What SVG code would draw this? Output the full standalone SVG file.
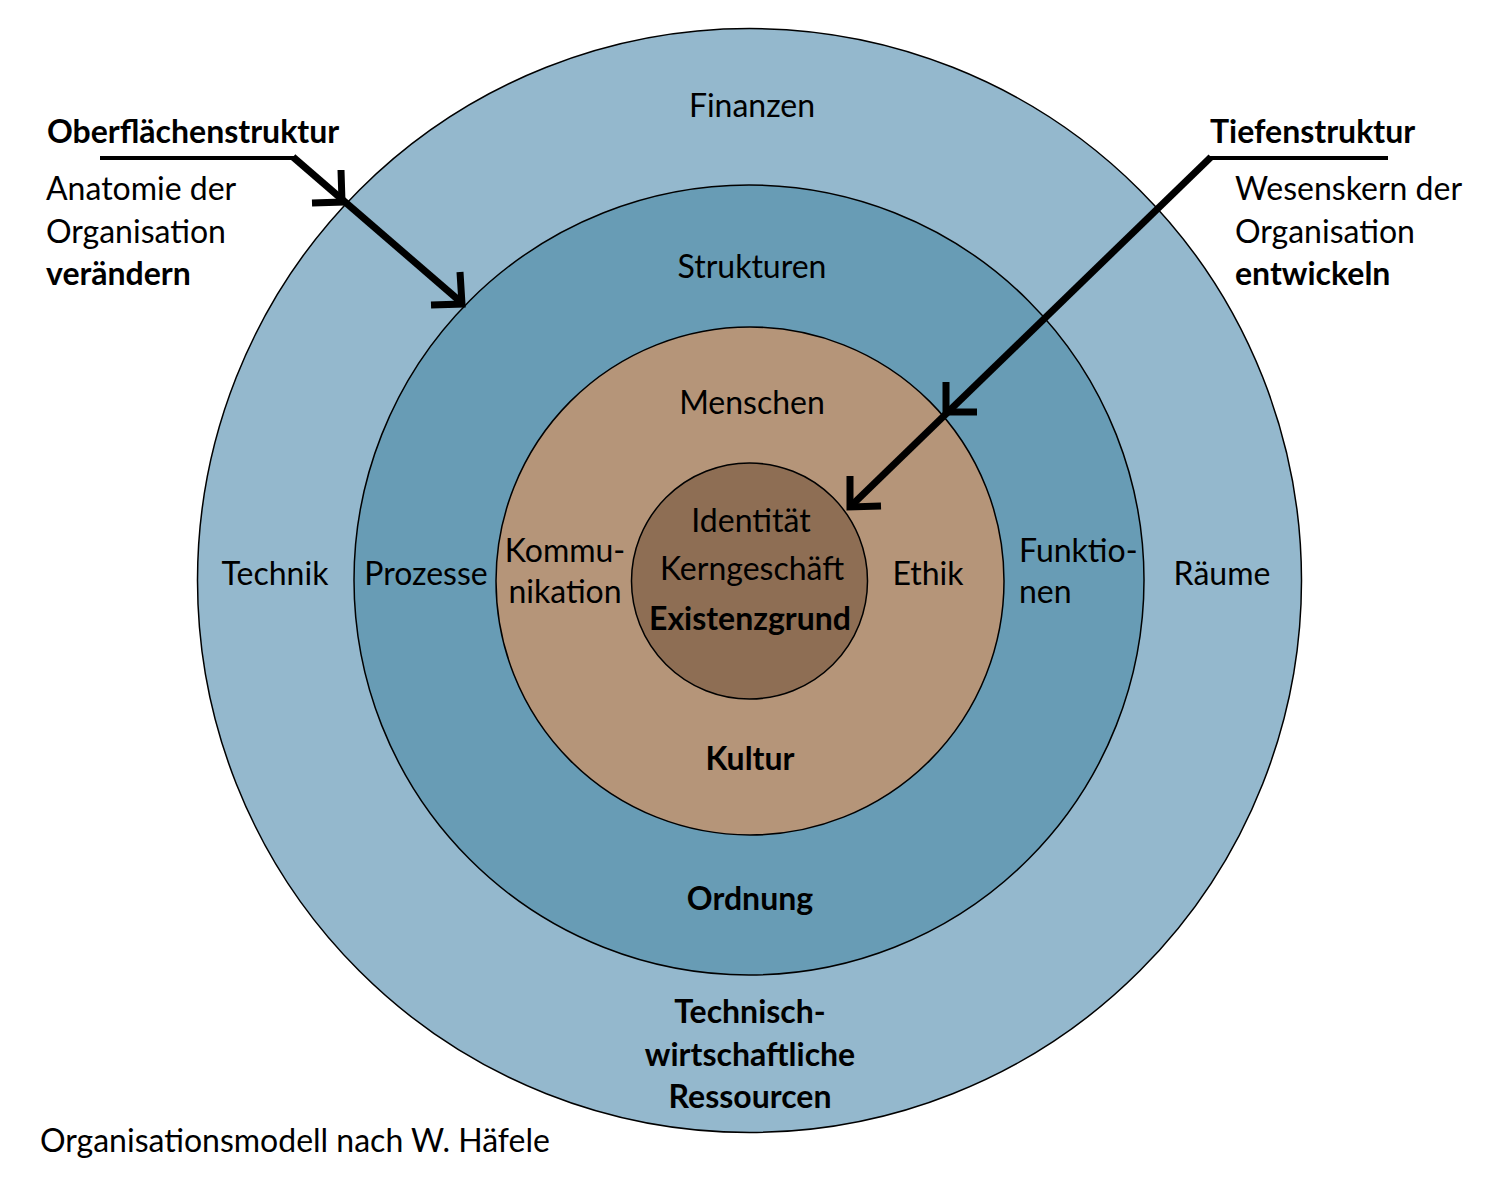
<svg xmlns="http://www.w3.org/2000/svg" width="1500" height="1200" viewBox="0 0 1500 1200">
<style>
.ring{stroke:#000;stroke-width:1.5}
.t{font-family:Lato,"Liberation Sans",sans-serif;font-size:32px;fill:#000}
.c{text-anchor:middle}
.b{font-weight:bold}
.ln{fill:none;stroke:#000;stroke-linejoin:miter;stroke-linecap:butt}
</style>
<rect width="1500" height="1200" fill="#fff"/>
<g id="ring-ressourcen">
<circle class="ring" cx="749.5" cy="580.5" r="552" fill="#94B8CD"/>
<text class="t c" x="752" y="117">Finanzen</text>
<text class="t c" x="275" y="585">Technik</text>
<text class="t c" x="1222" y="585">Räume</text>
<text class="t c b" x="750" y="1023">Technisch-</text>
<text class="t c b" x="750" y="1066">wirtschaftliche</text>
<text class="t c b" x="750" y="1108">Ressourcen</text>
</g>
<g id="ring-ordnung">
<circle class="ring" cx="749" cy="580" r="395" fill="#689CB5"/>
<text class="t c" x="752" y="278">Strukturen</text>
<text class="t c" x="426" y="585">Prozesse</text>
<text class="t" x="1019" y="562">Funktio-</text>
<text class="t" x="1019" y="603">nen</text>
<text class="t c b" x="750" y="910">Ordnung</text>
</g>
<g id="ring-kultur">
<circle class="ring" cx="750" cy="581" r="254" fill="#B59579"/>
<text class="t c" x="752" y="414">Menschen</text>
<text class="t c" x="565" y="562">Kommu-</text>
<text class="t c" x="565" y="603">nikation</text>
<text class="t c" x="928" y="585">Ethik</text>
<text class="t c b" x="750" y="770">Kultur</text>
</g>
<g id="core">
<circle class="ring" cx="749.5" cy="581" r="118" fill="#8E6E54"/>
<text class="t c" x="751" y="532">Identität</text>
<text class="t c" x="752" y="580">Kerngeschäft</text>
<text class="t c b" x="750" y="630">Existenzgrund</text>
</g>
<g id="label-oberflaeche">
<text class="t b" x="47" y="143">Oberflächenstruktur</text>
<text class="t" x="46" y="200">Anatomie der</text>
<text class="t" x="46" y="243">Organisation</text>
<text class="t b" x="46" y="285">verändern</text>
</g>
<g id="label-tiefe">
<text class="t b" x="1210" y="143">Tiefenstruktur</text>
<text class="t" x="1235" y="200">Wesenskern der</text>
<text class="t" x="1235" y="243">Organisation</text>
<text class="t b" x="1235" y="285">entwickeln</text>
</g>
<g id="caption">
<text class="t" x="40" y="1152">Organisationsmodell nach W. Häfele</text>
</g>
<g id="connectors">
<line class="ln" x1="100" y1="158" x2="295" y2="158" stroke-width="4"/>
<line class="ln" x1="293" y1="157" x2="462" y2="303" stroke-width="7"/>
<polyline class="ln" points="341,170 342,202 312,203" stroke-width="7"/>
<polyline class="ln" points="460,272 462,304 431,305" stroke-width="7"/>
<line class="ln" x1="1208" y1="158" x2="1388" y2="158" stroke-width="4"/>
<line class="ln" x1="1211" y1="157" x2="851" y2="506" stroke-width="7"/>
<polyline class="ln" points="946,382 946,412 977,412" stroke-width="7"/>
<polyline class="ln" points="850,476 850,507 881,506" stroke-width="7"/>
</g>
</svg>
